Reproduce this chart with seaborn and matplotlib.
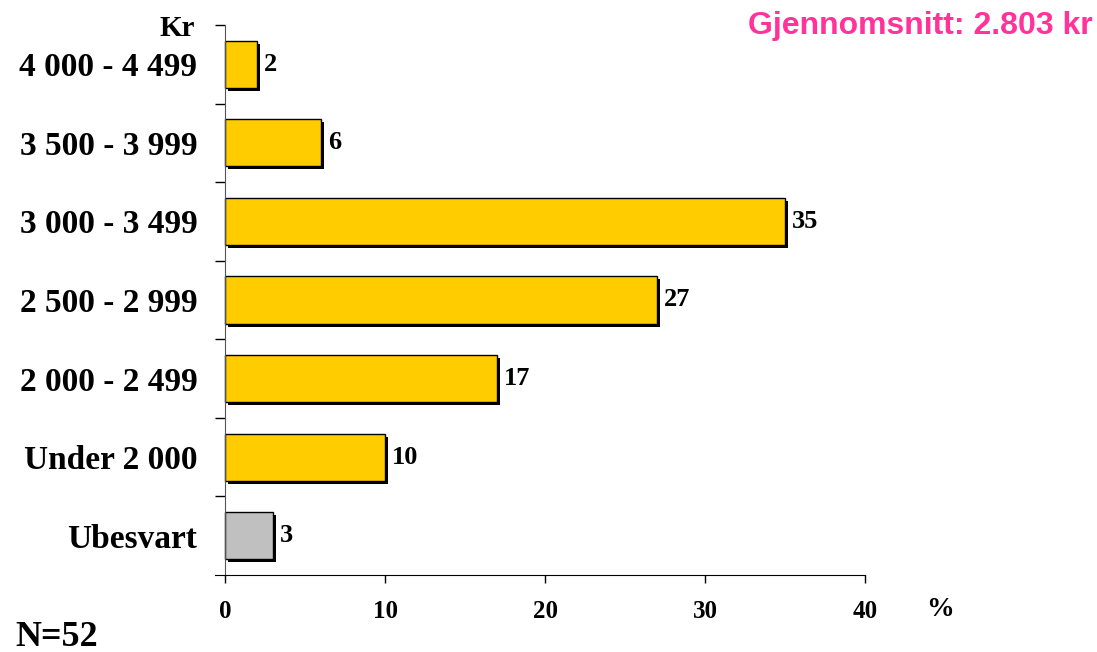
import matplotlib
matplotlib.use("Agg")
import matplotlib.pyplot as plt
import matplotlib.patheffects as pe
import seaborn as sns

# Data
categories = ["4 000 - 4 499", "3 500 - 3 999", "3 000 - 3 499", "2 500 - 2 999",
              "2 000 - 2 499", "Under 2 000", "Ubesvart"]
values = [2, 6, 35, 27, 17, 10, 3]
bar_colors = ["#FFCC00"] * 6 + ["#C0C0C0"]
x_ticks = [0, 10, 20, 30, 40]

sns.set_style("white")
plt.rcParams["font.family"] = ["Liberation Serif", "DejaVu Serif"]
plt.rcParams["text.color"] = "black"
plt.rcParams["xtick.color"] = "black"
plt.rcParams["ytick.color"] = "black"

fig = plt.figure(figsize=(10.97, 6.52), dpi=100)
ax = fig.add_axes([0.1964, 0.1181, 0.5922, 0.8436])

sns.barplot(x=values, y=categories, hue=categories, palette=bar_colors,
            saturation=1, legend=False, orient="h", width=0.6,
            edgecolor="black", linewidth=1, ax=ax)

# drop shadow on bars
for p in ax.patches:
    p.set_path_effects([pe.SimplePatchShadow(offset=(2.2, -2.2), shadow_rgbFace="black", alpha=1),
                        pe.Normal()])

for c in ax.containers:
    ax.bar_label(c, padding=5, fontsize=19, fontweight="bold", color="black")

ax.set_xlim(-0.6, 40)
ax.set_ylim(6.5, -0.5)

# spines
for s in ["top", "right"]:
    ax.spines[s].set_visible(False)
ax.spines["left"].set_position(("data", 0))
ax.spines["left"].set_color("#555555")
ax.spines["bottom"].set_color("black")

# x ticks
ax.set_xticks(x_ticks)
ax.set_xticklabels([str(t) for t in x_ticks], fontsize=18, fontweight="bold")
ax.tick_params(axis="x", direction="out", length=6, width=1, pad=12, bottom=True)

# y ticks: marks between categories, labels at centers
ax.set_yticks([i - 0.5 for i in range(len(categories))])
ax.set_yticklabels([])
ax.set_yticks(range(len(categories)), minor=True)
ax.set_yticklabels(categories, minor=True, fontsize=24, fontweight="bold")
ax.tick_params(axis="y", which="major", direction="out", length=7, width=1, left=True)
ax.tick_params(axis="y", which="minor", length=0, pad=20)
ax.set_xlabel("")
ax.set_ylabel("")

fig.text(195 / 1097, 1 - 28 / 652, "Kr", ha="right", va="center",
         fontsize=21, fontweight="bold")
fig.text(940 / 1097, 1 - 610 / 652, "%", ha="center", va="center",
         fontsize=20, fontweight="bold")
fig.text(15 / 1097, 1 - 646 / 652, "N=52", ha="left", va="baseline",
         fontsize=26, fontweight="bold")
fig.text(1093 / 1097, 1 - 26 / 652, "Gjennomsnitt: 2.803 kr", ha="right", va="center",
         fontsize=23, fontweight="bold", color="#FF3399",
         family=["Liberation Sans", "DejaVu Sans"])

fig.savefig("out.png", dpi=100)
